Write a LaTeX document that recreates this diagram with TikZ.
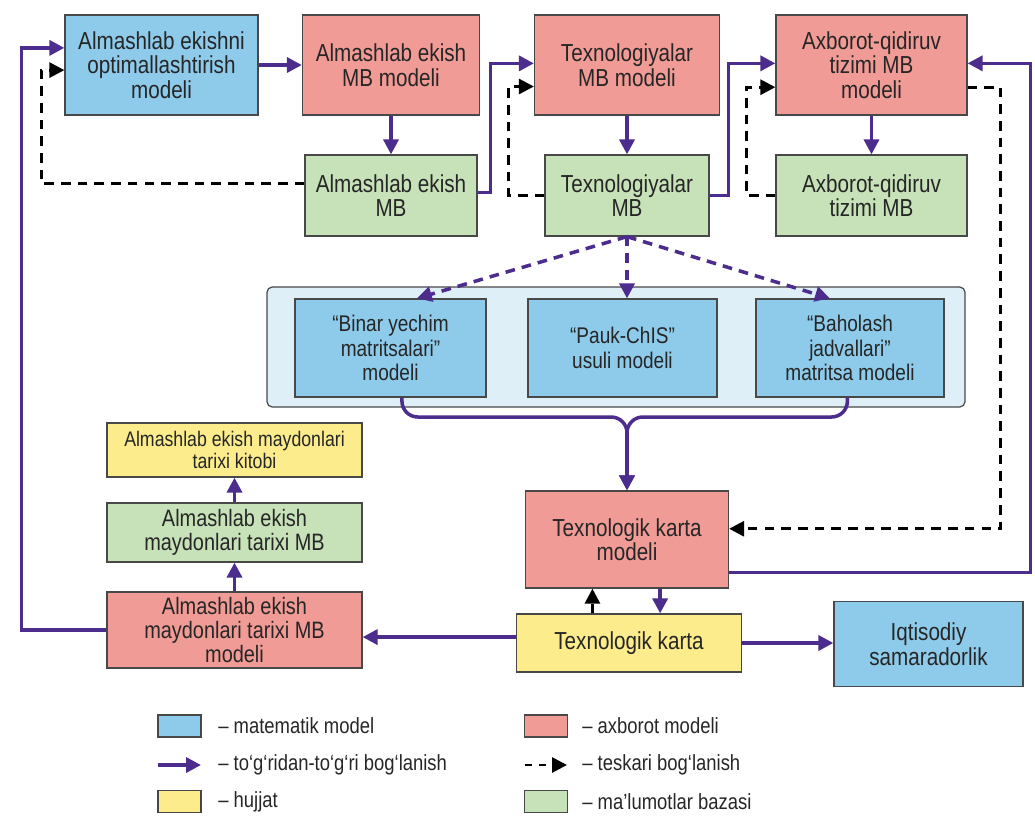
\documentclass[tikz,border=0pt]{standalone}
\usepackage{fontspec}
\setmainfont{Liberation Sans}[FakeStretch=0.84]
\usetikzlibrary{arrows.meta}
\definecolor{mathblue}{RGB}{142,203,235}
\definecolor{infored}{RGB}{241,155,150}
\definecolor{docyellow}{RGB}{252,236,140}
\definecolor{basegreen}{RGB}{199,225,184}
\definecolor{groupblue}{RGB}{222,239,248}
\definecolor{linkviolet}{RGB}{76,44,140}
\definecolor{edgegray}{RGB}{72,72,72}
\begin{document}
\begin{tikzpicture}[x=0.02cm,y=-0.02cm,
  box/.style={draw=edgegray,line width=0.7pt,align=center,inner sep=1pt,text=black!85,
    font=\fontsize{14}{14}\selectfont},
  size/.style 2 args={minimum width=#1*0.02cm,minimum height=#2*0.02cm},
  mathbox/.style={box,fill=mathblue},
  infobox/.style={box,fill=infored},
  docbox/.style={box,fill=docyellow},
  basebox/.style={box,fill=basegreen},
  link/.style={linkviolet,line width=2pt,-{Triangle[length=8.5pt,width=8.5pt]}},
  back/.style={black,line width=1.6pt,dash pattern=on 5.5pt off 4pt,-{Triangle[length=8.5pt,width=8.5pt]}},
  keytext/.style={anchor=west,inner sep=0pt,text=black!85,font=\fontsize{12.5}{13}\selectfont}]
\useasboundingbox (0,0) rectangle (1035,836);

% top row
\node[mathbox,size={193}{100}] (A1) at (161.5,65) {Almashlab ekishni\\optimallashtirish\\modeli};
\node[infobox,size={177}{100}] (A2) at (391,65) {Almashlab ekish\\MB modeli};
\node[infobox,size={185}{100}] (A3) at (627,65) {Texnologiyalar\\MB modeli};
\node[infobox,size={191}{100}] (A4) at (871.5,65) {Axborot-qidiruv\\tizimi MB\\modeli};

% databases
\node[basebox,size={172}{81}] (B1) at (391,195.5) {Almashlab ekish\\MB};
\node[basebox,size={164}{81}] (B2) at (627,195.5) {Texnologiyalar\\MB};
\node[basebox,size={191}{81}] (B3) at (871.5,195.5) {Axborot-qidiruv\\tizimi MB};

% group of math models
\node[draw=edgegray,line width=0.7pt,fill=groupblue,rounded corners=3pt,size={698}{120}] (group) at (616,347) {};
\node[mathbox,size={191}{98},font=\fontsize{12.9}{14}\selectfont] (C1) at (390.5,348) {“Binar yechim\\matritsalari”\\modeli};
\node[mathbox,size={189}{98},font=\fontsize{12.9}{14}\selectfont] (C2) at (622.5,348) {“Pauk-ChIS”\\usuli modeli};
\node[mathbox,size={188}{98},font=\fontsize{12.9}{14}\selectfont] (C3) at (850,348) {“Baholash\\jadvallari”\\matritsa modeli};

% lower part
\node[infobox,size={203}{97}] (D) at (627,539.5) {Texnologik karta\\modeli};
\node[docbox,size={225}{58}] (E) at (629,643) {Texnologik karta};
\node[mathbox,size={189}{85}] (F) at (928.5,644) {Iqtisodiy\\samaradorlik};
\node[docbox,size={255}{54},font=\fontsize{12}{12.5}\selectfont] (G1) at (234.5,450) {Almashlab ekish maydonlari\\tarixi kitobi};
\node[basebox,size={255}{59},font=\fontsize{13.5}{13.5}\selectfont] (G2) at (234.5,532.5) {Almashlab ekish\\maydonlari tarixi MB};
\node[infobox,size={255}{76},font=\fontsize{13.5}{13.5}\selectfont] (G3) at (234.5,630) {Almashlab ekish\\maydonlari tarixi MB\\modeli};

% direct links
\draw[link] (A1) -- (A2);
\draw[link] (A2) -- (B1);
\draw[link] (A3) -- (B2);
\draw[link] (A4) -- (B3);
\draw[link] (B1.2) -- ++(13,0) |- (A3.179);
\draw[link] (B2.east) -- ++(19,0) |- (A4.179);
\draw[link] (G3.west) -- ++(-85,0) |- (A1.170);
\draw[link] (D.-18) -- ++(301.5,0) |- (A4.1);
\draw[link] (D.-56) -- (D.-56 |- E.north);
\draw[link] (E.177) -- (E.177 -| G3.east);
\draw[link] (E.east) -- (E.east -| F.west);
\draw[link] (G3) -- (G2);
\draw[link] (G2) -- (G1);
\draw[link,dash pattern=on 5.5pt off 4pt] (B2.south) -- (C1.62);
\draw[link,dash pattern=on 5.5pt off 4pt] (B2.south) -- (B2.south |- C2.north);
\draw[link,dash pattern=on 5.5pt off 4pt] (B2.south) -- (C3.112);
\coordinate (brace) at (627,417);
\draw[link,rounded corners=9pt] (C1.-77) |- (brace) -- (D.north);
\draw[link,rounded corners=9pt] (C3.-93) |- (brace) -- (D.north);

% feedback links
\draw[back] (B1.172) -- ++(-263,0) |- (A1.183);
\draw[back] (B2.west) -- ++(-36,0) |- (A3.193);
\draw[back] (B3.west) -- ++(-29,0) |- (A4.193);
\draw[back] (A4.-13) -- ++(33,0) |- (D.6);
\draw[back] (E.141) -- (E.141 |- D.south);

% legend
\node[box,fill=mathblue,size={43}{22}] (keymath) at (179.5,726) {};
\node[keytext] (keymathtext) at (218,726) {– matematik model};
\coordinate (keylinka) at (158,765);
\coordinate (keylinkb) at (201,765);
\draw[link] (keylinka) -- (keylinkb);
\node[keytext] (keylinktext) at (218,765) {– to‘g‘ridan-to‘g‘ri bog‘lanish};
\node[box,fill=docyellow,size={43}{22}] (keydoc) at (179.5,801.5) {};
\node[keytext] (keydoctext) at (218,801.5) {– hujjat};
\node[box,fill=infored,size={43}{22}] (keyinfo) at (546,726) {};
\node[keytext] (keyinfotext) at (582,726) {– axborot modeli};
\coordinate (keybacka) at (525,765);
\coordinate (keybackb) at (567,765);
\draw[back,dash pattern=on 4pt off 4pt] (keybacka) -- (keybackb);
\node[keytext] (keybacktext) at (582,765) {– teskari bog‘lanish};
\node[box,fill=basegreen,size={43}{22}] (keybase) at (546,801.5) {};
\node[keytext] (keybasetext) at (582,801.5) {– ma’lumotlar bazasi};
\end{tikzpicture}
\end{document}
